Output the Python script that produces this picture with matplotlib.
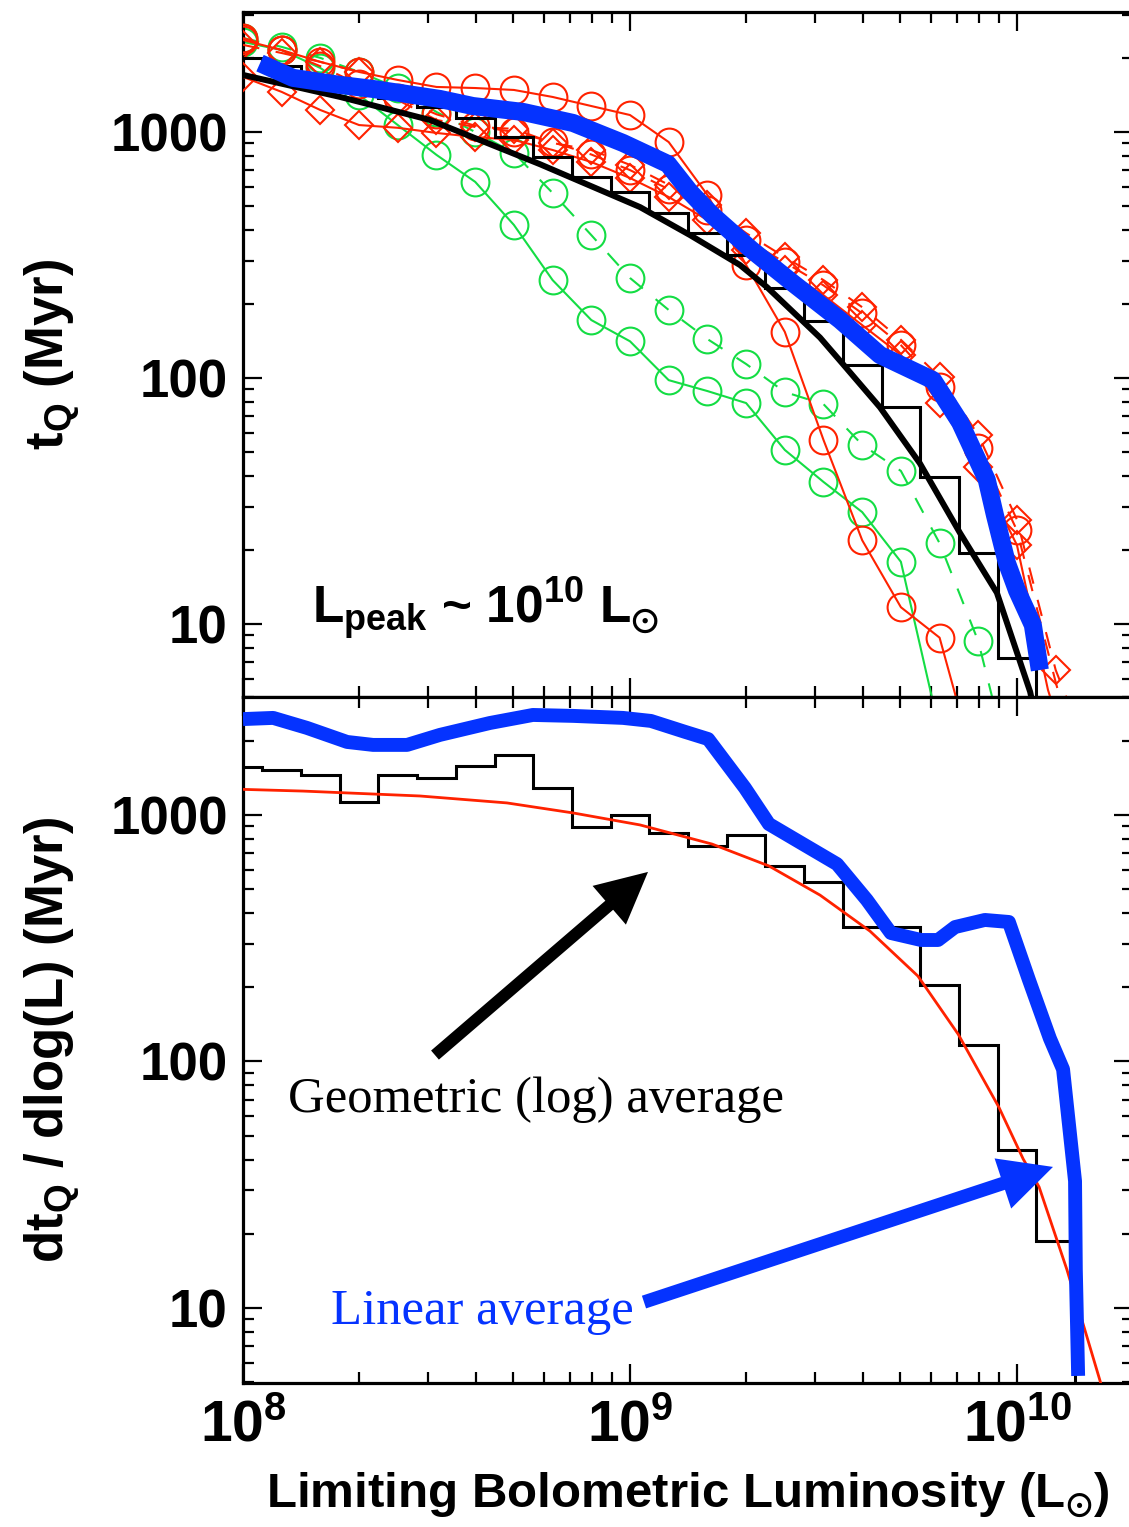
import numpy as np
import matplotlib
matplotlib.use('Agg')
import matplotlib.pyplot as plt
from matplotlib.ticker import FixedLocator, FixedFormatter, LogLocator, NullFormatter

plt.rcParams.update({
    'font.family': ['Liberation Sans', 'DejaVu Sans'],
    'font.weight': 'bold',
    'axes.labelweight': 'bold',
    'mathtext.fontset': 'custom',
    'mathtext.rm': 'Liberation Sans:bold',
    'mathtext.it': 'Liberation Sans:italic:bold',
    'mathtext.bf': 'Liberation Sans:bold',
    'mathtext.sf': 'Liberation Sans:bold',
    'mathtext.default': 'rm',
    'mathtext.fallback': 'stixsans',
})

# ---------------- data: top panel, t_Q(>L) in Myr vs log10 L ----------------
rc1_logL = [8.0, 8.1, 8.2, 8.3, 8.4, 8.5, 8.6, 8.7, 8.8, 8.9, 9.0, 9.1, 9.2, 9.3, 9.4,
            9.5, 9.6, 9.7, 9.8, 9.84, 9.87]
rc1_t = [2366, 2153, 1927, 1754, 1627, 1524, 1509, 1482, 1388, 1275, 1172, 910, 555, 288, 154,
         56, 21.9, 11.7, 8.8, 5.2, 3.0]

rc2_logL = [8.0, 8.1, 8.2, 8.3, 8.4, 8.5, 8.6, 8.7, 8.8, 8.9, 9.0, 9.1, 9.2, 9.3, 9.4,
            9.5, 9.6, 9.7, 9.8, 9.9, 10.0, 10.1, 10.15]
rc2_t = [2410, 2150, 1850, 1560, 1380, 1180, 1060, 1000, 910, 810, 700, 585, 480, 365, 295,
         238, 183, 136, 92, 52, 24, 5.8, 3.0]

d1_logL = [8.0, 8.1, 8.2, 8.3, 8.4, 8.5, 8.6, 8.7, 8.8, 8.9, 9.0, 9.1, 9.2, 9.3, 9.4,
           9.5, 9.6, 9.7, 9.8, 9.9, 10.0, 10.08, 10.12]
d1_t = [1675, 1455, 1228, 1067, 1040, 991, 954, 928, 845, 755, 650, 544, 439, 331, 275,
        217, 164, 124, 79, 43.4, 20.9, 5.4, 3.4]

d2_logL = [8.0, 8.1, 8.2, 8.3, 8.4, 8.5, 8.6, 8.7, 8.8, 8.9, 9.0, 9.1, 9.2, 9.3, 9.4,
           9.5, 9.6, 9.7, 9.8, 9.9, 10.0, 10.1, 10.15]
d2_t = [2260, 2094, 1927, 1754, 1349, 1119, 1048, 1030, 902, 845, 735, 610, 505, 388, 310,
        250, 194, 143, 101, 58.6, 26.5, 6.5, 4.1]

g1_logL = [8.0, 8.1, 8.2, 8.3, 8.4, 8.5, 8.6, 8.7, 8.8, 8.9, 9.0, 9.1, 9.2, 9.3, 9.4,
           9.5, 9.6, 9.7, 9.78, 9.8]
g1_t = [2323, 2153, 1820, 1413, 1067, 807, 627, 419, 250, 172, 141, 98, 88.5, 79.1, 51,
        37.8, 28.5, 17.9, 5.05, 3.5]

g2_logL = [8.0, 8.1, 8.2, 8.3, 8.4, 8.5, 8.6, 8.7, 8.8, 8.9, 9.0, 9.1, 9.2, 9.3, 9.4,
           9.5, 9.6, 9.7, 9.8, 9.9, 9.95]
g2_t = [2410, 2218, 2000, 1754, 1509, 1206, 1000, 822, 565, 381, 255, 189, 144, 114, 87.7,
        78.3, 53.5, 41.9, 21.3, 8.5, 4.1]

fit_top_logL = [8.0, 8.251, 8.483, 8.767, 9.026, 9.155, 9.284, 9.354, 9.491, 9.55, 9.646,
                9.749, 9.853, 9.948, 10.034, 10.06]
fit_top_t = [1706, 1388, 1119, 740, 495, 381, 288, 234, 146, 114, 76, 45, 23.4, 13.4, 5.3, 3.4]

hist_top_logL = [8.0, 8.1, 8.2, 8.3, 8.4, 8.5, 8.6, 8.7, 8.8, 8.9, 9.0, 9.1, 9.2, 9.3, 9.4,
                 9.5, 9.6, 9.7, 9.8, 9.9, 10.0, 10.1]
hist_top_t = [2000, 1850, 1680, 1500, 1380, 1260, 1140, 954, 791, 656, 570, 469, 388, 316, 232,
              171, 113, 76, 39.6, 19.4, 7.3, 0.5]

blue_top_logL = [8.044, 8.129, 8.251, 8.336, 8.509, 8.594, 8.724, 8.853, 8.982, 9.098, 9.155,
                 9.212, 9.315, 9.421, 9.543, 9.646, 9.783, 9.853, 9.922, 9.943, 9.974, 10.0,
                 10.041, 10.059]
blue_top_t = [1905, 1660, 1553, 1496, 1362, 1275, 1206, 1088, 902, 741, 570,
              460, 331, 243, 172, 124, 98, 66, 38.5, 27.7, 17.7, 13.7, 9.9, 6.5]

# ---------------- data: bottom panel, dt_Q/dlog(L) ----------------
hist_bot_logL = [8.0, 8.1, 8.2, 8.3, 8.4, 8.5, 8.6, 8.7, 8.8, 8.9, 9.0, 9.1, 9.2, 9.3, 9.4,
                 9.5, 9.6, 9.7, 9.8, 9.9, 10.0, 10.1, 10.2]
hist_bot_v = [1567, 1523, 1453, 1129, 1453, 1413, 1581, 1751, 1287, 894, 1000, 845, 748, 830, 621,
              535, 351, 351, 204, 117, 43.7, 18.7, 0.5]

fit_bot_logL = [8.0, 8.155, 8.457, 8.682, 8.853, 9.026, 9.212, 9.359, 9.491, 9.62, 9.744,
                9.848, 9.953, 10.016, 10.057, 10.129, 10.214, 10.25]
fit_bot_v = [1270, 1250, 1194, 1119, 1019, 911, 762, 621, 473, 338, 222,
             129, 65.3, 40.2, 31, 14.3, 5.1, 3.2]

blue_bot_logL = [8.0, 8.078, 8.165, 8.269, 8.336, 8.424, 8.509, 8.638, 8.749, 8.853, 8.982,
                 9.054, 9.142, 9.202, 9.297, 9.359, 9.447, 9.535, 9.612, 9.674, 9.752, 9.796,
                 9.84, 9.917, 9.979, 10.031, 10.085, 10.119, 10.15, 10.152, 10.158]
blue_bot_v = [2449, 2476, 2256, 1978, 1924, 1924, 2113, 2361, 2545, 2523, 2476,
              2407, 2174, 2032, 1287, 919, 762, 632, 452, 332, 311, 311,
              351, 375, 368, 214, 124, 93, 32.7, 14.3, 5.3]

x_ticks = [1e8, 1e9, 1e10]
x_ticklabels = [r'$10^{8}$', r'$10^{9}$', r'$10^{10}$']
y_ticks = [10, 100, 1000]
y_ticklabels = ['10', '100', '1000']

RED = '#ff2200'
GREEN = '#14dd44'
BLUE = '#0533ff'

def L(a):
    return 10.0 ** np.asarray(a)

def edges(centers):
    c = np.asarray(centers)
    return 10.0 ** np.append(c - 0.05, c[-1] + 0.05)

fig = plt.figure(figsize=(11.29, 15.27), dpi=100)
ax1 = fig.add_axes([0.21523, 0.54355, 0.78875, 0.44859])
ax2 = fig.add_axes([0.21523, 0.0943, 0.78875, 0.44925], sharex=ax1)

for ax in (ax1, ax2):
    ax.set_xscale('log')
    ax.set_yscale('log')
    ax.xaxis.set_major_locator(FixedLocator(x_ticks))
    ax.xaxis.set_minor_locator(LogLocator(base=10, subs=np.arange(2, 10), numticks=20))
    ax.xaxis.set_minor_formatter(NullFormatter())
    ax.yaxis.set_major_locator(FixedLocator(y_ticks))
    ax.yaxis.set_major_formatter(FixedFormatter(y_ticklabels))
    ax.yaxis.set_minor_locator(LogLocator(base=10, subs=np.arange(2, 10), numticks=20))
    ax.yaxis.set_minor_formatter(NullFormatter())
    ax.tick_params(which='both', direction='in', top=True, right=True, width=1.6)
    ax.tick_params(which='major', length=14, pad=11)
    ax.tick_params(which='minor', length=8)
    ax.tick_params(axis='y', labelsize=38)
    for s in ax.spines.values():
        s.set_linewidth(2.3)

ax2.xaxis.set_major_formatter(FixedFormatter(x_ticklabels))
ax2.tick_params(axis='x', labelsize=41, pad=12)
ax1.tick_params(axis='x', labelbottom=False)
ax1.set_xlim(1e8, 2.0e10)
ax1.set_ylim(5.05, 3074)
ax2.set_ylim(4.96, 3010)

# ---- top panel curves ----
mk = dict(markersize=20, markerfacecolor='none', markeredgewidth=1.5)
ax1.plot(L(g1_logL), g1_t, '-', color=GREEN, lw=1.5, marker='o', markeredgecolor=GREEN,
         markevery=list(range(18)), **mk, zorder=2)
ax1.plot(L(g2_logL), g2_t, color=GREEN, lw=1.5, ls=(0, (8, 8)), marker='o', markeredgecolor=GREEN,
         markevery=list(range(20)), **mk, zorder=2)
ax1.plot(L(rc2_logL), rc2_t, color=RED, lw=1.5, ls=(0, (8, 8)), marker='o', markeredgecolor=RED,
         markevery=list(range(21)), **mk, zorder=3)
ax1.plot(L(rc1_logL), rc1_t, '-', color=RED, lw=1.5, marker='o', markeredgecolor=RED,
         markevery=list(range(19)), **mk, zorder=3)
mkd = dict(markersize=14, markerfacecolor='none', markeredgewidth=1.5)
ax1.plot(L(d1_logL), d1_t, '-', color=RED, lw=1.5, marker='D', markeredgecolor=RED,
         markevery=list(range(21)), **mkd, zorder=3)
ax1.plot(L(d2_logL), d2_t, color=RED, lw=1.5, ls=(0, (8, 8)), marker='D', markeredgecolor=RED,
         markevery=list(range(22)), **mkd, zorder=3)

ax1.stairs(hist_top_t, edges(hist_top_logL), color='black', lw=2.2, zorder=4)
ax1.plot(L(fit_top_logL), fit_top_t, '-', color='black', lw=4.3, zorder=5)
ax1.plot(L(blue_top_logL), blue_top_t, '-', color=BLUE, lw=13, solid_capstyle='butt',
         solid_joinstyle='round', zorder=6)

ax1.text(0.0775, 0.108, r'L$_{\rm peak}$ ~ 10$^{10}$ L$_{\odot}$', transform=ax1.transAxes,
         fontsize=37, ha='left', va='baseline', zorder=7)
ax1.set_ylabel(r't$_{\rm Q}$ (Myr)', fontsize=38, labelpad=20)

# ---- bottom panel curves ----
ax2.stairs(hist_bot_v, edges(hist_bot_logL), color='black', lw=2.2, zorder=3)
ax2.plot(L(fit_bot_logL), fit_bot_v, '-', color=RED, lw=2.0, zorder=4)
ax2.plot(L(blue_bot_logL), blue_bot_v, '-', color=BLUE, lw=10, solid_capstyle='butt',
         solid_joinstyle='round', zorder=5)

ax2.annotate('', xy=(0.4548, 0.745), xytext=(0.2156, 0.478),
             xycoords='axes fraction', textcoords='axes fraction',
             arrowprops=dict(arrowstyle='simple,head_length=0.92,head_width=0.92,tail_width=0.215',
                             mutation_scale=40, color='black', lw=0, shrinkA=0, shrinkB=0),
             zorder=6)
ax2.annotate('', xy=(0.9096, 0.315), xytext=(0.4503, 0.118),
             xycoords='axes fraction', textcoords='axes fraction',
             arrowprops=dict(arrowstyle='simple,head_length=0.95,head_width=0.95,tail_width=0.24',
                             mutation_scale=40, color=BLUE, lw=0, shrinkA=0, shrinkB=0),
             zorder=6)
ax2.text(0.0505, 0.395, 'Geometric (log) average', transform=ax2.transAxes,
         family='Liberation Serif', fontweight='normal', fontsize=36.5, color='black',
         ha='left', va='baseline', zorder=7)
ax2.text(0.0988, 0.086, 'Linear average', transform=ax2.transAxes,
         family='Liberation Serif', fontweight='normal', fontsize=36.5, color=BLUE,
         ha='left', va='baseline', zorder=7)

ax2.set_ylabel(r'dt$_{\rm Q}$ / dlog(L) (Myr)', fontsize=38, labelpad=20)
ax2.set_xlabel(r'Limiting Bolometric Luminosity (L$_{\odot}$)', fontsize=35.5, labelpad=12)

fig.savefig('out.png', dpi=100)
